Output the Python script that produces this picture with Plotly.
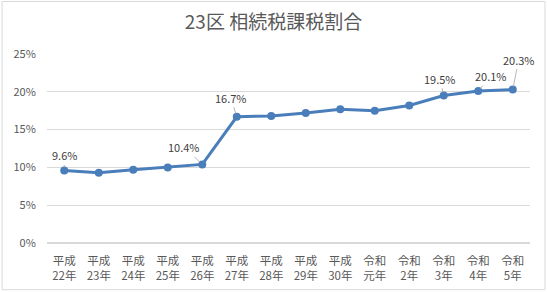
import plotly.graph_objects as go

categories = ["平成<br>22年", "平成<br>23年", "平成<br>24年", "平成<br>25年", "平成<br>26年",
              "平成<br>27年", "平成<br>28年", "平成<br>29年", "平成<br>30年", "令和<br>元年",
              "令和<br>2年", "令和<br>3年", "令和<br>4年", "令和<br>5年"]
values = [9.6, 9.3, 9.7, 10.0, 10.4, 16.7, 16.8, 17.2, 17.7, 17.5, 18.2, 19.5, 20.1, 20.3]
labeled = {0: (0, -15), 4: (-18, -17), 5: (-6, -19), 11: (-4, -17), 12: (13, -15), 13: (6, -30)}
title = "23区 相続税課税割合"

FONT = "Noto Sans CJK JP"
fig = go.Figure()
fig.add_trace(go.Scatter(
    x=categories, y=values, mode="lines+markers",
    line=dict(color="#4A7EBB", width=3),
    marker=dict(color="#4A7EBB", size=8),
    hoverinfo="skip",
))
for i, (ax, ay) in labeled.items():
    fig.add_annotation(
        x=categories[i], y=values[i], text=f"{values[i]:.1f}%",
        showarrow=True, arrowhead=0, arrowwidth=0.8, arrowcolor="#A6A6A6",
        ax=ax, ay=ay, standoff=3, font=dict(family=FONT, size=11, color="#404040"),
    )
fig.add_shape(type="rect", xref="paper", yref="paper",
              x0=-0.093, x1=1.031, y0=-0.247, y1=1.278,
              line=dict(color="#D9D9D9", width=1), layer="below")
fig.update_layout(
    width=547, height=292,
    margin=dict(l=47, r=17, t=54, b=49, autoexpand=False),
    paper_bgcolor="white", plot_bgcolor="white",
    showlegend=False,
    title=dict(text=title, x=0.5, xanchor="center", y=0.925, yanchor="middle",
               font=dict(family=FONT, size=19, color="#595959")),
    font=dict(family=FONT, color="#595959"),
)
fig.update_xaxes(range=[-0.5, len(categories) - 0.5], showgrid=False, showline=False,
                 ticks="outside", ticklen=7, tickcolor="rgba(0,0,0,0)", automargin=False,
                 tickfont=dict(family=FONT, size=11.5, color="#595959"))
fig.update_yaxes(range=[0, 25], dtick=5, ticksuffix="%", showgrid=True, automargin=False,
                 ticks="outside", ticklen=8, tickcolor="rgba(0,0,0,0)",
                 gridcolor="#D9D9D9", gridwidth=1, zeroline=True, zerolinecolor="#D9D9D9",
                 showline=False, tickfont=dict(family=FONT, size=11, color="#595959"))
fig.write_html("out.html")
